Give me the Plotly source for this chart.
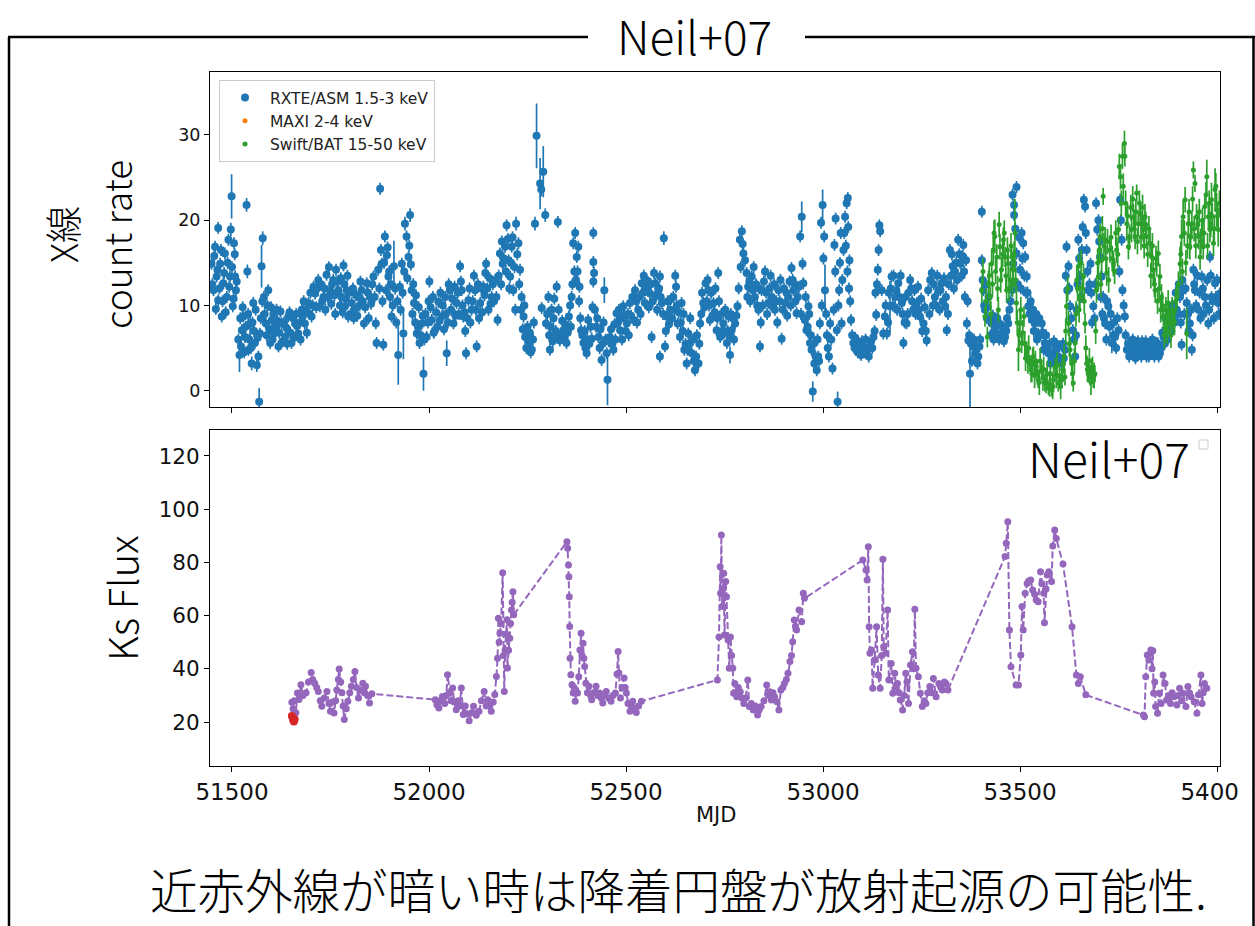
import plotly.graph_objects as go

# ---------------- data ----------------
# RXTE/ASM, points with individually read error bars
asm_mjd = [
    51448, 51453, 51457, 51461, 51465, 51465, 51470, 51474, 51478, 51482,
    51487, 51491, 51495, 51497, 51499, 51502, 51505, 51508, 51510, 51519,
    51525, 51529, 51533, 51537, 51539, 51542, 51546, 51550, 51554, 51558,
    51563, 51569, 51571, 51575, 51578, 51581, 51586, 51592, 51597, 51601,
    51607, 51613, 51618, 51626, 51635, 51643, 51651, 51660, 51668, 51677,
    51685, 51694, 51702, 51711, 51719, 51723, 51732, 51740, 51749, 51757,
    51764, 51770, 51778, 51783, 51787, 51791, 51795, 51804, 51812, 51821,
    51829, 51835, 51842, 51850, 51859, 51865, 51867, 51871, 51876, 51880,
    51884, 51888, 51893, 51897, 51901, 51905, 51911, 51922, 51926, 51931,
    51935, 51939, 51943, 51948, 51952, 51956, 51962, 51969, 51976, 51982,
    51986, 51994, 52001, 52007, 52015, 52024, 52032, 52041, 52045, 52053,
    52062, 52070, 52079, 52083, 52087, 52094, 52100, 52108, 52117, 52121,
    52130, 52138, 52145, 52151, 52159, 52168, 52174, 52180, 52187, 52193,
    52197, 52202, 52206, 52210, 52214, 52221, 52227, 52231, 52235, 52240,
    52244, 52252, 52261, 52269, 52273, 52282, 52285, 52286, 52290, 52295,
    52297, 52303, 52307, 52311, 52320, 52324, 52327, 52332, 52341, 52349,
    52355, 52362, 52366, 52371, 52375, 52377, 52379, 52382, 52386, 52392,
    52400, 52404, 52413, 52417, 52417, 52417, 52421, 52430, 52438, 52445,
    52451, 52453, 52459, 52468, 52476, 52485, 52493, 52502, 52510, 52519,
    52523, 52531, 52540, 52548, 52552, 52561, 52565, 52574, 52582, 52586,
    52586, 52591, 52596, 52599, 52603, 52612, 52620, 52627, 52631, 52637,
    52641, 52648, 52654, 52658, 52667, 52675, 52684, 52688, 52696, 52702,
    52709, 52713, 52722, 52730, 52734, 52739, 52747, 52756, 52760, 52764,
    52768, 52777, 52783, 52789, 52794, 52798, 52802, 52806, 52810, 52819,
    52827, 52836, 52840, 52844, 52853, 52861, 52870, 52878, 52887, 52895,
    52904, 52912, 52920, 52925, 52933, 52939, 52942, 52946, 52948, 52950,
    52954, 52958, 52963, 52967, 52971, 52974, 52978, 52984, 52988, 52992,
    52995, 52999, 53003, 53005, 53012, 53018, 53024, 53029, 53032, 53035,
    53037, 53041, 53045, 53047, 53052, 53056, 53060, 53063, 53064, 53067,
    53071, 53077, 53085, 53094, 53102, 53111, 53119, 53128, 53135, 53139,
    53141, 53143, 53145, 53149, 53153, 53157, 53162, 53170, 53174, 53183,
    53191, 53200, 53204, 53212, 53221, 53229, 53238, 53246, 53255, 53263,
    53267, 53276, 53284, 53293, 53301, 53310, 53314, 53322, 53329, 53335,
    53343, 53349, 53356, 53360, 53363, 53365, 53369, 53373, 53380, 53386,
    53392, 53397, 53403, 53403, 53407, 53411, 53420, 53428, 53436, 53445,
    53453, 53462, 53470, 53479, 53481, 53483, 53485, 53485, 53491, 53491,
    53500, 53504, 53508, 53513, 53517, 53521, 53530, 53538, 53546, 53555,
    53563, 53572, 53580, 53589, 53597, 53606, 53614, 53618, 53620, 53623,
    53627, 53634, 53640, 53644, 53648, 53652, 53659, 53662, 53665, 53669,
    53673, 53679, 53686, 53693, 53696, 53699, 53703, 53707, 53711, 53716,
    53724, 53733, 53741, 53750, 53754, 53758, 53760, 53766, 53771, 53779,
    53788, 53796, 53805, 53813, 53821, 53830, 53838, 53847, 53855, 53864,
    53872, 53881, 53889, 53898, 53906, 53910, 53914, 53923, 53931, 53936,
    53940, 53944, 53953, 53961, 53969, 53978, 53982, 53986, 53995, 54003,
    54007,
]
asm_rate = [
    14.9, 11.8, 16.9, 13.4, 19.1, 10.6, 14.9, 8.7, 12.6, 16.1,
    11.0, 17.7, 13.4, 18.9, 22.8, 9.9, 17.3, 13.4, 11.8, 4.2,
    7.1, 8.7, 6.3, 21.8, 14.0, 4.8, 7.9, 3.2, 10.3, 5.6,
    3.0, -1.3, 6.7, 14.6, 17.9, 11.0, 7.9, 11.8, 5.6, 8.3,
    6.7, 9.5, 5.2, 7.9, 6.3, 8.7, 5.6, 7.9, 6.7, 9.5,
    7.9, 10.3, 8.7, 11.4, 13.0, 9.9, 11.0, 13.6, 11.8, 13.0,
    14.2, 11.8, 11.0, 14.7, 9.9, 11.8, 8.7, 10.3, 9.5, 11.0,
    11.8, 7.9, 12.6, 11.0, 13.4, 7.9, 5.6, 14.2, 23.7, 14.9,
    5.4, 18.1, 15.9, 13.4, 11.0, 8.7, 14.6, 4.2, 12.2, 14.9,
    6.7, 19.6, 18.1, 15.7, 20.6, 11.8, 10.3, 6.7, 5.6, 7.9,
    2.0, 6.3, 12.8, 8.3, 7.1, 10.4, 8.7, 11.0, 4.4, 11.8,
    7.9, 10.3, 14.6, 11.8, 8.7, 4.4, 10.6, 9.5, 11.8, 5.2,
    10.3, 12.2, 14.9, 9.5, 11.0, 13.0, 8.3, 16.1, 14.9, 16.9,
    19.4, 15.3, 13.4, 16.9, 11.8, 19.6, 17.3, 14.2, 11.0, 8.7,
    6.3, 5.6, 4.8, 19.6, 29.9, 24.3, 23.6, 9.7, 25.7, 20.6,
    7.9, 11.0, 4.8, 9.5, 6.3, 12.2, 19.8, 5.9, 7.1, 5.6,
    8.7, 11.0, 17.3, 18.5, 15.7, 14.0, 16.9, 12.2, 7.1, 5.6,
    4.4, 8.3, 6.1, 18.5, 15.1, 12.8, 9.5, 6.3, 3.6, 11.8,
    4.4, 1.3, 6.3, 4.8, 9.1, 7.1, 9.9, 7.9, 10.3, 8.3,
    11.8, 9.5, 12.6, 10.3, 13.0, 11.4, 6.3, 12.6, 11.8, 13.4,
    4.0, 10.3, 17.9, 5.2, 8.7, 9.5, 11.0, 12.2, 7.9, 6.3,
    10.3, 4.8, 3.2, 6.7, 4.4, 2.4, 3.2, 7.9, 10.3, 12.6,
    11.8, 8.3, 10.3, 7.1, 13.8, 6.3, 7.9, 5.6, 8.7, 4.2,
    7.1, 7.9, 9.9, 17.7, 18.7, 16.1, 15.3, 13.8, 12.2, 13.4,
    11.0, 9.5, 5.2, 11.8, 14.0, 10.3, 11.0, 9.5, 11.8, 6.1,
    10.3, 11.0, 14.4, 11.8, 9.1, 12.2, 18.1, 20.4, 14.9, 12.6,
    8.3, 7.1, 9.9, 5.6, 4.8, -0.1, 3.2, 2.4, 4.0, 7.9,
    19.7, 21.8, 18.1, 11.8, 5.0, 7.9, 2.6, 17.1, 20.2, 7.1,
    -1.3, 11.8, 18.5, 7.9, 16.5, 20.4, 22.0, 22.6, 19.2, 15.3,
    8.3, 5.6, 4.8, 4.4, 5.2, 4.6, 5.2, 6.3, 8.9, 14.2,
    16.5, 19.4, 18.7, 11.8, 6.7, 8.7, 6.7, 9.9, 13.4, 11.0,
    12.6, 10.3, 5.6, 7.9, 13.0, 9.5, 10.3, 8.7, 7.9, 5.9,
    11.8, 13.8, 11.0, 11.8, 12.6, 9.9, 7.1, 16.5, 14.6, 14.0,
    17.7, 14.9, 17.1, 11.0, 15.3, 7.9, 5.9, 2.0, 5.2, 4.4,
    3.2, 5.2, 21.0, 15.3, 11.8, 9.5, 11.0, 7.9, 7.1, 7.9,
    6.7, 6.3, 7.9, 11.8, 23.0, 14.9, 21.8, 20.6, 23.9, 16.1,
    14.2, 18.5, 17.3, 15.7, 13.4, 9.9, 8.3, 7.9, 6.7, 7.9,
    5.6, 4.4, 3.6, 4.8, 4.0, 3.2, 4.8, 16.9, 11.8, 14.6,
    9.9, 7.1, 4.0, 9.5, 17.7, 13.4, 19.2, 22.4, 21.6, 16.5,
    11.8, 14.9, 9.9, 22.0, 18.9, 20.0, 15.7, 13.4, 11.0, 7.9,
    9.9, 5.6, 6.3, 7.1, 22.4, 17.7, 11.8, 8.7, 4.8, 5.6,
    4.4, 5.6, 4.4, 5.2, 4.0, 5.6, 4.8, 5.6, 4.4, 6.3,
    7.1, 7.9, 8.3, 9.5, 11.0, 5.4, 11.8, 10.3, 7.9, 4.8,
    14.2, 11.8, 9.5, 13.4, 11.0, 7.9, 15.7, 11.0, 12.6, 10.3,
    11.4,
]
asm_err = [
    0.7, 0.7, 0.7, 0.7, 0.7, 0.7, 0.7, 0.7, 0.7, 0.7,
    0.7, 0.7, 0.7, 0.8, 2.6, 0.7, 0.7, 0.7, 0.7, 2.0,
    0.7, 0.7, 0.7, 0.8, 0.8, 0.7, 1.5, 0.8, 0.7, 0.7,
    0.8, 1.6, 0.7, 2.5, 0.8, 0.7, 0.7, 0.7, 0.7, 0.7,
    0.7, 0.7, 0.7, 0.7, 0.7, 0.7, 0.7, 0.7, 0.7, 0.7,
    0.7, 0.7, 0.7, 0.7, 0.7, 0.7, 0.7, 0.7, 0.7, 0.7,
    0.7, 0.7, 0.7, 0.7, 0.7, 0.7, 0.7, 0.7, 0.7, 0.7,
    0.7, 0.7, 0.7, 0.7, 0.7, 0.7, 0.7, 0.7, 0.7, 0.7,
    0.7, 0.7, 0.7, 0.7, 0.7, 0.7, 3.0, 3.5, 0.7, 0.7,
    3.0, 0.8, 0.7, 0.7, 0.8, 0.7, 0.7, 0.7, 0.7, 0.7,
    2.0, 0.7, 0.7, 0.7, 0.7, 0.7, 0.7, 0.7, 1.5, 0.7,
    0.7, 0.7, 0.7, 0.7, 0.7, 0.7, 0.7, 0.7, 0.7, 0.7,
    0.7, 0.7, 0.7, 0.7, 0.7, 0.7, 0.7, 0.7, 0.7, 0.7,
    0.7, 0.7, 0.7, 0.7, 0.7, 0.8, 0.7, 0.7, 0.7, 0.7,
    0.7, 0.7, 0.7, 0.8, 3.8, 3.0, 0.8, 0.7, 3.0, 0.8,
    0.7, 0.7, 0.7, 0.7, 0.7, 0.7, 0.7, 0.7, 0.7, 0.7,
    0.7, 0.7, 0.7, 0.7, 0.7, 0.7, 0.7, 0.7, 0.7, 0.7,
    0.7, 0.7, 0.7, 0.7, 0.7, 0.7, 0.7, 0.7, 0.7, 1.5,
    0.7, 3.0, 0.7, 0.7, 0.7, 0.7, 0.7, 0.7, 0.7, 0.7,
    0.7, 0.7, 0.7, 0.7, 0.7, 0.7, 0.7, 0.7, 0.7, 0.7,
    0.7, 0.7, 0.8, 0.7, 0.7, 0.7, 0.7, 0.7, 0.7, 0.7,
    0.7, 0.7, 0.7, 0.7, 0.7, 0.7, 0.7, 0.7, 0.7, 0.7,
    0.7, 0.7, 0.7, 0.7, 0.7, 0.7, 0.7, 0.7, 0.7, 1.0,
    0.7, 0.7, 0.7, 0.7, 0.7, 0.7, 0.7, 0.7, 0.7, 0.7,
    0.7, 0.7, 0.7, 0.7, 0.7, 0.7, 0.7, 0.7, 0.7, 0.7,
    0.7, 0.7, 0.7, 0.7, 0.7, 0.7, 0.7, 1.8, 0.7, 0.7,
    0.7, 0.7, 0.7, 0.7, 0.7, 1.2, 0.7, 0.7, 0.7, 0.7,
    0.7, 1.8, 0.7, 3.0, 1.0, 0.7, 0.7, 0.7, 0.7, 0.7,
    1.2, 0.7, 0.7, 0.7, 0.7, 0.7, 0.7, 0.7, 0.7, 0.7,
    0.7, 0.7, 0.7, 0.7, 0.7, 0.7, 0.7, 0.7, 0.7, 0.7,
    0.7, 0.7, 0.7, 0.7, 0.7, 0.7, 0.7, 3.0, 0.7, 0.7,
    0.7, 0.7, 0.7, 0.7, 0.7, 0.7, 0.7, 0.7, 0.7, 0.7,
    0.7, 0.7, 0.7, 0.7, 0.7, 0.7, 0.7, 0.7, 0.7, 0.7,
    0.7, 0.7, 0.7, 0.7, 0.7, 0.7, 0.7, 4.0, 0.7, 0.7,
    0.7, 0.7, 0.7, 0.7, 0.7, 0.7, 0.7, 0.7, 0.7, 0.7,
    0.7, 0.7, 0.7, 0.7, 0.7, 0.7, 0.7, 0.7, 0.7, 0.7,
    0.7, 0.7, 0.7, 0.7, 0.7, 0.7, 0.7, 0.7, 0.7, 0.7,
    0.7, 0.7, 0.7, 0.7, 0.7, 0.7, 0.7, 0.7, 0.7, 0.7,
    0.7, 0.7, 0.7, 0.7, 0.7, 0.7, 0.7, 0.7, 0.7, 0.7,
    0.7, 0.7, 0.7, 0.7, 0.7, 0.7, 0.7, 0.7, 0.7, 0.7,
    0.7, 1.2, 0.7, 0.7, 0.7, 0.7, 0.7, 0.7, 0.7, 0.7,
    0.7, 0.7, 0.7, 0.7, 0.7, 0.7, 0.7, 0.7, 0.7, 0.7,
    0.7, 0.7, 0.7, 0.7, 0.7, 0.7, 0.7, 0.7, 0.7, 0.7,
    0.7, 0.7, 0.7, 0.7, 0.7, 0.7, 0.7, 0.7, 0.7, 0.7,
    0.7,
]

# RXTE/ASM, the dense band of ordinary points (typical error ~0.7)
asm_dense_mjd = [
    51450, 51455, 51459, 51463, 51468, 51472, 51476, 51480, 51484, 51489, 51493, 51500, 51504, 51507, 51512,
    51516, 51521, 51523, 51527, 51531, 51535, 51541, 51544, 51548, 51552, 51556, 51560, 51565, 51567, 51573,
    51577, 51583, 51588, 51590, 51595, 51599,
    51603, 51605, 51610, 51615, 51620, 51623, 51629, 51632, 51638, 51640, 51646, 51648, 51655, 51657, 51663,
    51665, 51672, 51674, 51680, 51682, 51688, 51690, 51697, 51699, 51705, 51707, 51714, 51716,
    51726, 51729, 51735, 51737, 51743, 51746, 51752, 51754, 51760, 51762, 51767, 51774, 51776, 51781, 51785,
    51789, 51793, 51798, 51801, 51807, 51809, 51815, 51818, 51824, 51826, 51832, 51838, 51845, 51847, 51853,
    51856, 51862,
    51874, 51878, 51882, 51886, 51891, 51895, 51899, 51903, 51908, 51914, 51917, 51920, 51928, 51933, 51937,
    51945, 51950, 51954, 51958, 51960, 51965, 51967, 51972, 51974, 51979, 51984, 51988, 51991,
    51997, 51999, 52004, 52010, 52012, 52018, 52021, 52027, 52029, 52035, 52038, 52043, 52048, 52050, 52056,
    52059, 52065, 52067, 52073, 52076, 52081, 52085, 52090, 52092, 52097, 52103, 52105, 52111, 52114, 52119,
    52124, 52127,
    52133, 52135, 52141, 52143, 52148, 52154, 52156, 52162, 52165, 52171, 52177, 52183, 52185, 52190, 52195,
    52200, 52204, 52208, 52212, 52217, 52219, 52224, 52229, 52233, 52238, 52242, 52247, 52250, 52256, 52258,
    52264, 52266,
    52300, 52305, 52309, 52314, 52316, 52318, 52322, 52329, 52335, 52338, 52344, 52346, 52352, 52358, 52360,
    52364, 52369, 52373, 52381, 52384, 52389, 52395, 52397, 52402, 52407, 52410, 52415, 52419, 52424, 52427,
    52433, 52435, 52441, 52443, 52448, 52456, 52462, 52465, 52471, 52473, 52479, 52482, 52488, 52490, 52496,
    52499, 52505, 52507, 52513, 52516,
    52526, 52528, 52534, 52537, 52543, 52545, 52550, 52555, 52558, 52563, 52568, 52571, 52577, 52579, 52584,
    52588, 52594, 52601, 52606, 52609, 52615, 52617, 52623, 52625, 52629, 52634, 52639, 52644, 52646, 52651,
    52656, 52661, 52663, 52670, 52672, 52678, 52680, 52686, 52691, 52693, 52699,
    52705, 52707, 52711, 52716, 52719, 52725, 52727, 52732, 52736, 52742, 52744, 52750, 52752, 52758, 52762,
    52766, 52771, 52774, 52780, 52786, 52791, 52796,
    52808, 52813, 52815, 52822, 52824, 52830, 52833, 52838, 52842, 52847, 52850, 52856, 52858, 52864, 52867,
    52873, 52876, 52881, 52884, 52890, 52892, 52898, 52901, 52907, 52909, 52915, 52918, 52923, 52928, 52930,
    52936, 52944,
    52956, 52961, 52965, 52969, 52976, 52981, 52986, 52990, 52997, 53001, 53008, 53010, 53015, 53021, 53027,
    53031, 53039, 53043, 53049, 53054, 53058, 53062, 53066, 53069, 53074, 53080, 53082, 53088, 53091, 53097,
    53099, 53105, 53108, 53114, 53116, 53122, 53125, 53131, 53133, 53137,
    53159, 53165, 53167, 53172, 53177, 53179, 53186, 53188, 53194, 53197, 53202, 53207, 53209, 53215, 53217,
    53224, 53226, 53232, 53235, 53241, 53243, 53249, 53252, 53258, 53261, 53270, 53272, 53279, 53281, 53287,
    53290, 53296, 53298, 53304, 53307, 53312, 53317, 53319, 53325, 53327, 53332, 53338, 53340, 53346, 53352,
    53354, 53358, 53367, 53371, 53376, 53378, 53383, 53389, 53394, 53399,
    53405, 53409, 53413, 53416, 53418, 53423, 53425, 53431, 53433, 53439, 53442, 53447, 53450, 53456, 53459,
    53465, 53467, 53473, 53476, 53488, 53494, 53497, 53502, 53506, 53511, 53515, 53519, 53524, 53527, 53533,
    53535, 53541, 53543, 53549, 53552, 53558, 53560,
    53566, 53569, 53575, 53577, 53583, 53586, 53592, 53594, 53600, 53603, 53609, 53611, 53616, 53625, 53630,
    53637, 53642, 53646, 53650, 53655, 53657, 53667, 53671, 53676, 53681, 53683, 53689, 53691, 53701, 53705,
    53709, 53713, 53719, 53721, 53727, 53730, 53736, 53738, 53744, 53747, 53752, 53756, 53763, 53768,
    53774, 53777, 53783, 53786, 53791, 53793, 53799, 53802, 53808, 53810, 53816, 53819, 53825, 53827, 53833,
    53836, 53841, 53844, 53850, 53852, 53858, 53861, 53867, 53869, 53875, 53878, 53884, 53886, 53892, 53895,
    53901, 53903, 53908, 53912, 53917, 53920, 53926, 53928, 53934, 53938, 53942, 53947, 53950, 53956, 53958,
    53964, 53966, 53972, 53975, 53980, 53984, 53989, 53992, 53997, 54000, 54005,
]
asm_dense_rate = [
    12.5, 15.8, 9.6, 14.2, 12.0, 16.5, 10.5, 13.8, 9.2, 15.0, 12.2, 14.5, 10.8, 16.0, 12.8,
    6.0, 8.5, 5.2, 9.8, 4.5, 7.5, 9.0, 6.0, 5.0, 8.0, 7.0, 9.5, 6.2, 4.0, 8.5,
    10.5, 9.0, 6.5, 10.0, 7.2, 9.8,
    6.0, 9.0, 7.5, 8.2, 6.8, 9.3, 5.8, 8.0, 7.4, 5.5, 9.2, 6.8, 8.5, 6.2, 9.0,
    7.6, 8.0, 6.0, 8.8, 10.5, 9.5, 6.8, 9.0, 11.5, 10.0, 12.2, 9.8, 12.0,
    12.5, 10.5, 12.0, 9.5, 11.0, 14.5, 10.2, 12.5, 11.2, 9.0, 12.8, 10.0, 13.2, 9.2, 12.5,
    10.8, 13.5, 11.5, 9.0, 12.0, 8.5, 11.2, 8.8, 10.0, 12.8, 10.5, 9.8, 11.5, 8.5, 10.2,
    12.5, 11.0,
    12.0, 16.5, 10.5, 15.0, 11.8, 16.8, 14.0, 12.5, 10.0, 12.0, 8.0, 10.5, 9.5, 11.5, 14.0,
    13.2, 17.0, 14.8, 9.0, 12.5, 8.0, 11.2, 7.5, 9.8, 6.5, 8.8, 6.0, 9.0,
    8.0, 10.5, 9.8, 11.0, 6.8, 9.2, 7.5, 8.2, 11.5, 10.0, 7.2, 9.0, 8.0, 12.5, 9.5,
    10.8, 12.2, 8.8, 11.5, 9.0, 12.8, 10.0, 9.2, 7.0, 8.5, 12.0, 8.0, 10.5, 13.5, 9.5,
    12.5, 8.5,
    12.0, 9.2, 11.2, 13.8, 12.0, 13.2, 10.2, 12.5, 10.5, 11.0, 13.5, 12.5, 17.5, 15.5, 14.0,
    17.8, 12.0, 15.0, 18.0, 14.5, 9.5, 16.0, 12.5, 9.5, 7.2, 10.0, 5.0, 7.5, 6.8, 4.5,
    6.0, 8.0,
    9.0, 6.5, 7.5, 5.8, 8.5, 10.8, 7.0, 9.5, 6.5, 8.2, 6.0, 7.8, 6.8, 10.0, 7.5,
    12.5, 14.0, 13.0, 10.5, 8.5, 6.5, 7.0, 5.0, 6.0, 5.5, 7.5, 9.8, 13.8, 7.5, 8.5,
    5.0, 7.2, 5.5, 8.0, 6.0, 5.8, 7.2, 5.5, 7.8, 6.0, 8.0, 9.5, 8.5, 6.0, 8.8,
    7.0, 9.0, 6.5, 8.8, 11.0,
    10.5, 8.0, 11.0, 9.0, 11.5, 13.5, 11.8, 12.2, 9.8, 12.5, 10.5, 13.8, 11.2, 9.5, 12.0,
    11.0, 9.0, 7.0, 10.5, 7.8, 10.8, 8.5, 9.5, 13.5, 10.0, 9.2, 8.0, 7.0, 9.0, 5.5,
    4.8, 5.5, 8.5, 6.0, 3.5, 4.0, 6.5, 5.5, 9.0, 11.5, 9.8,
    10.5, 13.0, 10.0, 11.5, 8.8, 9.2, 12.0, 8.5, 10.5, 9.0, 7.0, 6.8, 9.5, 7.0, 6.5,
    9.0, 8.5, 6.0, 8.8, 12.0, 14.5, 17.2,
    11.0, 12.8, 10.5, 11.8, 14.5, 12.5, 10.0, 12.0, 8.0, 10.0, 12.8, 11.5, 9.0, 12.0, 13.5,
    9.8, 12.5, 10.5, 8.0, 10.5, 13.0, 9.5, 12.0, 11.5, 8.8, 12.8, 10.0, 13.0, 12.5, 10.5,
    11.0, 9.0,
    11.0, 7.5, 9.0, 6.5, 5.5, 4.0, 6.0, 3.5, 10.0, 15.5, 9.0, 6.5, 4.0, 6.0, 9.5,
    14.0, 10.0, 15.0, 13.0, 18.5, 17.0, 14.0, 12.0, 10.5, 6.5, 5.0, 6.2, 4.5, 5.5, 4.2,
    5.8, 4.5, 6.0, 5.0, 4.0, 5.8, 5.0, 7.0, 11.5, 12.5,
    10.0, 8.0, 11.5, 12.0, 10.0, 13.5, 11.8, 9.5, 11.0, 13.5, 9.0, 8.0, 11.0, 9.0, 11.5,
    12.0, 10.5, 11.8, 9.0, 12.2, 9.5, 10.8, 7.0, 9.8, 7.0, 9.0, 13.0, 10.0, 12.5, 10.0,
    13.5, 9.5, 11.8, 10.5, 13.2, 11.0, 9.0, 12.5, 13.5, 16.0, 12.0, 15.0, 13.0, 16.0, 13.5,
    15.8, 14.0, 10.5, 6.5, 5.5, 3.5, 6.0, 5.0, 4.0, 6.0,
    13.0, 10.0, 12.5, 8.5, 9.8, 8.5, 6.5, 8.8, 6.0, 6.5, 8.5, 6.0, 7.8, 7.5, 5.8,
    7.0, 8.5, 9.5, 10.5, 19.0, 12.5, 18.0, 12.0, 15.5, 13.5, 11.5, 11.5, 9.0, 10.5, 9.5,
    7.0, 9.0, 6.0, 8.5, 6.5, 6.8, 4.8,
    6.5, 5.0, 5.5, 3.2, 4.0, 5.8, 5.5, 3.5, 5.2, 3.5, 5.5, 3.8, 13.5, 12.0, 8.5,
    6.0, 6.5, 12.5, 15.5, 11.0, 16.5, 18.5, 14.0, 12.5, 11.5, 8.0, 8.5, 12.5, 17.5, 11.0,
    9.0, 8.5, 6.0, 10.5, 7.5, 9.0, 6.5, 8.0, 5.0, 8.5, 14.0, 20.0, 10.0, 6.5,
    5.5, 4.0, 4.8, 6.0, 5.0, 3.8, 5.8, 5.0, 4.0, 5.8, 4.5, 5.8, 5.0, 4.0, 4.5,
    6.0, 4.0, 5.0, 5.5, 4.0, 5.0, 6.8, 5.5, 8.5, 6.0, 9.0, 7.0, 10.0, 8.0, 11.5,
    9.0, 12.5, 8.0, 13.0, 9.0, 12.0, 9.0, 7.0, 9.5, 6.5, 12.5, 10.0, 13.5, 11.5, 8.5,
    12.0, 9.0, 10.0, 13.0, 9.5, 13.5, 10.5, 8.5, 11.0, 13.0, 9.0,
]
asm_dense_err = 0.7

# Swift/BAT, points with individually read error bars
bat_mjd = [
    53403, 53411, 53417, 53420, 53424, 53428, 53432, 53436, 53441, 53445,
    53449, 53453, 53458, 53462, 53466, 53470, 53475, 53479, 53483, 53487,
    53491, 53496, 53500, 53504, 53510, 53517, 53525, 53530, 53534, 53541,
    53546, 53555, 53563, 53572, 53580, 53585, 53589, 53597, 53606, 53610,
    53614, 53618, 53623, 53627, 53631, 53635, 53640, 53644, 53648, 53652,
    53661, 53665, 53669, 53673, 53678, 53682, 53686, 53690, 53694, 53699,
    53703, 53707, 53711, 53716, 53720, 53728, 53737, 53745, 53750, 53752,
    53755, 53760, 53765, 53766, 53771, 53775, 53783, 53788, 53792, 53796,
    53800, 53805, 53809, 53813, 53817, 53821, 53830, 53834, 53838, 53843,
    53847, 53851, 53855, 53859, 53864, 53868, 53872, 53876, 53881, 53889,
    53898, 53906, 53910, 53914, 53919, 53923, 53927, 53931, 53936, 53940,
    53944, 53948, 53953, 53957, 53961, 53965, 53969, 53974, 53978, 53982,
    53986, 53991, 53995, 53999, 54003,
]
bat_rate = [
    11.8, 8.7, 6.3, 12.6, 11.0, 14.9, 16.5, 18.1, 15.7, 9.5,
    16.9, 14.2, 17.7, 15.7, 11.8, 14.9, 13.0, 15.7, 14.2, 18.5,
    10.3, 4.8, 7.9, 5.6, 8.7, 4.8, 3.2, 2.0, 4.0, 2.8,
    1.3, 2.4, 0.9, 0.3, 0.1, 1.3, 2.8, 0.9, 1.3, 3.2,
    1.6, 9.9, 7.9, 4.8, 3.2, 0.9, 5.6, 13.0, 14.6, 11.0,
    13.4, 7.9, 3.2, 2.0, 1.6, 2.8, 1.3, 2.0, 11.8, 13.4,
    18.1, 15.3, 22.8, 17.7, 13.8, 16.5, 14.9, 16.5, 18.9, 26.3,
    25.1, 27.5, 29.0, 27.5, 19.6, 16.9, 18.9, 20.4, 18.1, 23.2,
    19.6, 20.8, 19.6, 18.9, 20.4, 18.1, 17.3, 15.7, 14.2, 11.8,
    14.9, 16.1, 13.4, 11.0, 8.7, 7.1, 8.7, 10.3, 7.9, 8.3,
    11.0, 14.9, 18.1, 20.4, 22.4, 6.7, 19.6, 16.9, 19.6, 25.9,
    24.3, 20.4, 18.1, 15.7, 18.5, 16.9, 21.6, 25.1, 20.4, 18.9,
    22.4, 17.3, 23.6, 21.2, 18.9,
]
bat_err = [
    1.5, 1.2, 1.2, 1.5, 1.2, 1.5, 1.5, 2.0, 1.5, 1.5,
    1.5, 1.5, 1.5, 1.2, 1.5, 1.5, 1.5, 1.5, 1.5, 4.0,
    2.0, 2.5, 1.5, 1.2, 1.2, 1.0, 1.0, 1.0, 1.2, 1.0,
    1.0, 1.0, 1.0, 0.8, 0.8, 1.5, 1.0, 1.0, 1.0, 1.2,
    1.0, 2.0, 1.5, 1.5, 1.0, 1.0, 1.5, 1.5, 1.5, 1.5,
    1.5, 1.2, 1.0, 1.0, 1.0, 1.0, 1.0, 1.0, 1.5, 1.5,
    1.5, 1.5, 1.0, 1.5, 1.5, 1.5, 1.5, 1.5, 1.5, 1.5,
    1.5, 1.5, 1.5, 1.2, 2.0, 1.5, 1.5, 1.5, 1.5, 1.0,
    1.5, 1.5, 1.5, 1.5, 1.5, 1.5, 1.5, 1.5, 1.5, 1.5,
    1.5, 1.5, 1.5, 1.5, 1.5, 1.5, 1.5, 1.5, 1.5, 1.5,
    1.5, 2.0, 2.0, 2.0, 1.5, 3.0, 1.5, 1.5, 1.5, 1.0,
    1.0, 1.5, 1.5, 1.5, 1.5, 1.5, 1.5, 2.0, 1.5, 1.5,
    2.0, 1.5, 2.5, 2.0, 2.0,
]
# Swift/BAT, the remaining dense points (typical error ~1.5)
bat_dense_mjd = [
    53406, 53414, 53422, 53426, 53430, 53434, 53438, 53443, 53447, 53451, 53456, 53460, 53464, 53468, 53472,
    53477, 53481, 53485, 53489, 53493, 53498, 53502, 53507, 53512, 53514, 53520, 53522, 53528, 53532, 53537,
    53539, 53544, 53549, 53551, 53558, 53560, 53566, 53569, 53575, 53577, 53583, 53592, 53594, 53600, 53603,
    53608, 53612, 53616, 53621, 53625, 53633, 53638, 53642, 53646, 53650, 53655, 53658, 53663, 53667, 53671,
    53676, 53680, 53684, 53688, 53692, 53697, 53701, 53705, 53709, 53713, 53718, 53722, 53725, 53731, 53734,
    53740, 53743, 53748, 53757, 53762, 53768, 53773, 53778, 53781, 53786, 53790, 53794, 53798, 53803, 53807,
    53811, 53815, 53819, 53824, 53827, 53832, 53836, 53841, 53845, 53849, 53853, 53857, 53862, 53866, 53870,
    53874, 53878, 53883, 53886, 53892, 53895, 53902, 53908, 53912, 53917, 53921, 53925, 53929, 53933, 53938,
    53942, 53946, 53951, 53955, 53959, 53963, 53967, 53972, 53976, 53980, 53984, 53988, 53993, 53997, 54001,
    54006,
]
bat_dense_rate = [
    14.0, 10.5, 13.5, 9.0, 12.5, 18.5, 14.0, 12.0, 19.5, 13.0, 16.0, 18.5, 13.5, 16.5, 12.0,
    17.0, 12.5, 16.0, 13.0, 8.0, 6.5, 9.5, 6.8, 5.5, 3.8, 3.5, 5.0, 2.5, 3.5, 1.8,
    3.2, 2.2, 1.0, 3.5, 1.5, 2.5, 1.2, 2.0, 0.8, 2.0, 0.5, 1.8, 3.0, 1.8, 0.5,
    2.5, 4.0, 7.0, 12.0, 5.5, 2.0, 3.5, 9.0, 12.0, 9.5, 15.0, 12.0, 10.5, 5.0, 2.5,
    3.5, 1.0, 2.5, 1.8, 7.0, 15.0, 16.5, 12.5, 19.0, 17.0, 15.5, 17.5, 13.0, 18.0, 15.5,
    14.0, 18.5, 16.0, 22.0, 24.0, 22.0, 20.5, 18.0, 21.5, 22.5, 19.0, 21.0, 17.5, 22.0, 18.0,
    21.5, 17.0, 19.5, 16.0, 19.0, 13.5, 17.0, 12.5, 15.5, 10.5, 12.0, 9.5, 10.0, 6.5, 9.5,
    7.0, 9.0, 6.5, 9.5, 8.0, 10.5, 12.5, 16.0, 14.0, 18.5, 15.0, 17.0, 21.0, 18.0, 22.5,
    19.0, 17.0, 19.5, 21.0, 17.5, 20.0, 18.5, 23.0, 17.0, 22.0, 19.5, 20.5, 19.0, 24.0, 20.5,
    22.0,
]
bat_dense_err = 1.5

# MAXI: no data in this window (legend entry only)
maxi_mjd = [None]
maxi_rate = [None]

# Ks-band flux (Neil+07)
ks_mjd = [
    51652, 51655, 51658, 51662, 51666, 51670, 51675, 51680, 51688, 51694,
    51701, 51705, 51710, 51715, 51719, 51724, 51728, 51734, 51741, 51746,
    51750, 51755, 51759, 51763, 51766, 51770, 51772, 51776, 51779, 51782,
    51785, 51790, 51794, 51799, 51803, 51808, 51812, 51816, 51821, 51826,
    51832, 51836, 51839, 51844, 51849, 51855,
    52016, 52020, 52025, 52030, 52034, 52040, 52044, 52047, 52052, 52056,
    52060, 52064, 52069, 52074, 52078, 52082, 52087, 52092, 52097, 52102,
    52108, 52113, 52120, 52127, 52133, 52140, 52145, 52149, 52154, 52158,
    52163, 52167, 52171, 52174, 52176, 52178, 52180, 52183, 52187, 52189,
    52191, 52193, 52196, 52198, 52199, 52202, 52205, 52207, 52209, 52211,
    52213, 52215,
    52350, 52352, 52354, 52355, 52356, 52357, 52358, 52360, 52363, 52366,
    52368, 52371, 52374, 52377, 52380, 52383, 52386, 52388, 52391, 52393,
    52395, 52398, 52402, 52406, 52410, 52413, 52418, 52424, 52428, 52433,
    52437, 52441, 52446, 52450, 52456, 52462, 52467, 52473, 52477, 52480,
    52482, 52486, 52490, 52495, 52498, 52501, 52505, 52510, 52514, 52517,
    52522, 52526, 52532, 52539,
    52732, 52736, 52739, 52740, 52742, 52744, 52746, 52748, 52750, 52753,
    52755, 52759, 52762, 52765, 52768, 52771, 52773, 52776, 52781, 52785,
    52790, 52794, 52799, 52804, 52809, 52813, 52818, 52823, 52828, 52834,
    52838, 52843, 52850, 52857, 52861, 52865, 52869, 52873, 52877, 52883,
    52888, 52893, 52898, 52902, 52907, 52911, 52916, 52920, 52923, 52927,
    52930, 52933, 52939, 52946, 52950, 52953,
    53101, 53109, 53112, 53115, 53117, 53119, 53123, 53126, 53131, 53136,
    53140, 53145, 53149, 53152, 53154, 53159, 53164, 53167, 53173, 53177,
    53182, 53186, 53189, 53193, 53196, 53202, 53206, 53210, 53213, 53217,
    53222, 53227, 53230, 53233, 53236, 53242, 53247, 53252, 53257, 53261,
    53266, 53271, 53276, 53280, 53287, 53294, 53299, 53303, 53308, 53312,
    53317,
    53462, 53465, 53469, 53473, 53477, 53490, 53496, 53502, 53505, 53508,
    53513, 53518, 53522, 53527, 53532, 53537, 53541, 53546, 53552, 53556,
    53560, 53562, 53566, 53569, 53573, 53580, 53583, 53588, 53592, 53609,
    53632, 53643, 53648, 53653, 53667,
    53813, 53816, 53819, 53823, 53827, 53832, 53835, 53837, 53839, 53842,
    53844, 53849, 53853, 53858, 53863, 53868, 53872, 53877, 53882, 53886,
    53891, 53898, 53902, 53905, 53910, 53914, 53921, 53926, 53930, 53934,
    53942, 53949, 53953, 53959, 53962, 53965, 53968, 53974,
]
ks_flux = [
    27.4, 25.0, 28.0, 23.5, 30.9, 28.5, 34.0, 30.0, 31.0, 35.0,
    38.6, 36.0, 34.6, 33.0, 31.5, 28.0, 25.9, 29.0, 31.5, 27.0,
    24.0, 27.5, 23.4, 28.0, 32.0, 36.0, 39.9, 35.0, 31.0, 26.0,
    20.9, 25.0, 27.8, 31.0, 33.4, 36.0, 39.0, 33.0, 29.0, 32.0,
    34.6, 31.0, 33.4, 30.0, 27.1, 30.6,
    28.4, 26.5, 25.3, 28.0, 29.6, 27.0, 30.0, 37.8, 30.9, 28.0,
    32.8, 27.5, 24.6, 28.0, 26.0, 32.8, 22.8, 26.0, 23.0, 20.5,
    23.5, 25.9, 22.5, 24.0, 28.0, 31.5, 26.0, 28.4, 26.0, 24.0,
    27.5, 30.3, 37.1, 44.0, 59.0, 50.0, 53.4, 57.0, 76.1, 45.0,
    31.5, 47.1, 53.0, 58.4, 40.3, 47.0, 51.5, 57.0, 62.1, 65.0,
    69.0, 60.3,
    87.8, 85.3, 79.0, 74.6, 67.1, 55.9, 44.0, 37.8, 34.0, 30.9,
    33.0, 27.8, 31.0, 30.9, 37.0, 47.1, 53.4, 45.0, 49.6, 44.0,
    40.9, 34.6, 31.0, 33.4, 30.0, 28.4, 31.0, 33.4, 30.0, 30.9,
    29.0, 27.1, 30.0, 31.5, 29.0, 27.8, 30.0, 30.9, 38.0, 46.5,
    38.4, 29.0, 33.0, 36.5, 33.0, 30.9, 27.0, 24.0, 26.0, 27.8,
    25.0, 23.6, 26.0, 27.8,
    35.8, 52.0, 78.4, 68.4, 90.3, 63.4, 70.0, 75.9, 52.7, 72.8,
    67.1, 50.8, 40.2, 52.0, 45.0, 40.2, 30.8, 34.5, 29.5, 33.0,
    31.4, 29.0, 27.0, 29.0, 35.8, 25.8, 27.0, 24.5, 26.0, 22.6,
    24.5, 25.8, 28.0, 33.9, 30.0, 31.4, 28.3, 31.0, 29.5, 27.6,
    24.5, 32.0, 33.0, 34.5, 36.0, 38.3, 42.7, 45.0, 50.2, 58.3,
    56.0, 54.6, 62.1, 57.7, 68.4, 66.5,
    80.9, 77.1, 73.4, 85.9, 55.8, 45.8, 47.1, 32.7, 43.3, 55.8,
    37.7, 32.7, 45.0, 81.2, 48.3, 45.8, 62.1, 35.8, 42.0, 30.8,
    38.3, 33.0, 34.5, 31.0, 28.3, 24.5, 30.0, 38.3, 35.0, 27.0,
    41.4, 46.4, 40.0, 62.4, 40.2, 37.0, 30.8, 25.8, 28.0, 27.0,
    31.0, 33.3, 31.0, 36.4, 29.5, 34.5, 33.0, 32.0, 35.0, 34.5,
    32.0,
    82.2, 87.2, 95.3, 54.6, 40.8, 33.9, 33.9, 45.2, 63.4, 54.6,
    68.4, 72.1, 73.0, 73.4, 69.6, 68.0, 65.9, 65.2, 76.5, 72.0,
    68.4, 57.3, 70.0, 75.3, 76.5, 72.8, 86.2, 92.2, 89.0, 79.4,
    55.8, 37.7, 34.5, 37.0, 30.2,
    22.6, 22.0, 37.0, 45.2, 43.3, 47.1, 40.0, 46.8, 30.8, 35.0,
    25.8, 23.3, 30.8, 27.0, 37.7, 34.5, 28.3, 30.0, 27.0, 31.0,
    29.5, 26.4, 30.0, 32.7, 28.0, 30.8, 25.8, 33.3, 31.0, 29.5,
    27.6, 23.3, 30.2, 37.7, 27.0, 31.0, 34.5, 32.7,
]
ks_red_mjd = [51652, 51655, 51657, 51659]
ks_red_flux = [22.3, 20.8, 20.2, 21.0]

x_ticks = [51500, 52000, 52500, 53000, 53500, 54000]
x_ticktext = ["51500", "52000", "52500", "53000", "53500", "54000"]
y1_ticks = [0, 10, 20, 30]
y2_ticks = [20, 40, 60, 80, 100, 120]

# ---------------- layout helpers (pixel -> paper) ----------------
W, H = 1255, 926


def px(x):
    return x / W


def py(y):
    return 1 - y / H


BLUE, ORANGE, GREEN = "#1f77b4", "#ff7f0e", "#2ca02c"
PURPLE, RED = "#9467bd", "#d62728"
JP = "Noto Sans CJK JP"
DV = "DejaVu Sans"

fig = go.Figure()
fig.add_trace(go.Scatter(
    x=asm_dense_mjd, y=asm_dense_rate, mode="markers", showlegend=False,
    legendgroup="asm", marker=dict(color=BLUE, size=8),
    error_y=dict(type="constant", value=asm_dense_err, color=BLUE, thickness=1.7, width=0),
    xaxis="x", yaxis="y"))
fig.add_trace(go.Scatter(
    x=asm_mjd, y=asm_rate, mode="markers", name="RXTE/ASM 1.5-3 keV",
    legendgroup="asm", marker=dict(color=BLUE, size=8),
    error_y=dict(type="data", array=asm_err, color=BLUE, thickness=1.7, width=0),
    xaxis="x", yaxis="y"))
fig.add_trace(go.Scatter(
    x=maxi_mjd, y=maxi_rate, mode="markers", name="MAXI 2-4 keV",
    marker=dict(color=ORANGE, size=5),
    xaxis="x", yaxis="y"))
fig.add_trace(go.Scatter(
    x=bat_dense_mjd, y=bat_dense_rate, mode="markers", showlegend=False,
    legendgroup="bat", marker=dict(color=GREEN, size=5),
    error_y=dict(type="constant", value=bat_dense_err, color=GREEN, thickness=1.7, width=0),
    xaxis="x", yaxis="y"))
fig.add_trace(go.Scatter(
    x=bat_mjd, y=bat_rate, mode="markers", name="Swift/BAT 15-50 keV",
    legendgroup="bat", marker=dict(color=GREEN, size=5),
    error_y=dict(type="data", array=bat_err, color=GREEN, thickness=1.7, width=0),
    xaxis="x", yaxis="y"))
fig.add_trace(go.Scatter(
    x=ks_mjd, y=ks_flux, mode="lines+markers", showlegend=False,
    line=dict(color=PURPLE, width=2, dash="7px,3px"),
    marker=dict(color=PURPLE, size=7),
    xaxis="x2", yaxis="y2"))
fig.add_trace(go.Scatter(
    x=ks_red_mjd, y=ks_red_flux, mode="markers", showlegend=False,
    marker=dict(color=RED, size=8),
    xaxis="x2", yaxis="y2"))

axis_common = dict(showline=True, linecolor="black", linewidth=1, mirror=True,
                   ticks="outside", ticklen=5, tickwidth=1, tickcolor="black",
                   showgrid=False, zeroline=False, automargin=False)
xr = [51444.2, 54007.5]
tick_color = "#111111"

fig.update_layout(
    width=W, height=H,
    margin=dict(l=0, r=0, t=0, b=0, pad=0, autoexpand=False),
    paper_bgcolor="white", plot_bgcolor="white",
    xaxis=dict(domain=[px(210), px(1220)], range=xr, anchor="y",
               tickvals=x_ticks, showticklabels=False, **axis_common),
    yaxis=dict(domain=[py(407), py(72)], range=[-1.91, 37.39], anchor="x",
               tickvals=y1_ticks, tickfont=dict(family=DV, size=17.5, color=tick_color),
               **axis_common),
    xaxis2=dict(domain=[px(210), px(1220)], range=xr, anchor="y2",
                tickvals=x_ticks, ticktext=x_ticktext,
                tickfont=dict(family=DV, size=23, color=tick_color), **axis_common),
    yaxis2=dict(domain=[py(766), py(430)], range=[3.46, 129.77], anchor="x2",
                tickvals=y2_ticks, tickfont=dict(family=DV, size=21.5, color=tick_color),
                **axis_common),
    showlegend=True,
    legend=dict(x=px(219), y=py(80), xanchor="left", yanchor="top",
                bgcolor="white", bordercolor="#cccccc", borderwidth=1,
                font=dict(family=DV, size=15.5, color="#222222"),
                itemwidth=40, tracegroupgap=0),
)

annotations = [
    dict(text="Neil+07", x=px(695), y=py(34.5), font=dict(family=JP, size=46, color="black", weight=300)),
    dict(text="Neil+07", x=px(1192), y=py(457), xanchor="right",
         font=dict(family=JP, size=48, color="black", weight=300)),
    dict(text="X線", x=px(62), y=py(235), textangle=-90,
         font=dict(family=JP, size=37, color="black", weight=300)),
    dict(text="count rate", x=px(116), y=py(245), textangle=-90,
         font=dict(family=JP, size=37, color="black", weight=300)),
    dict(text="Ks Flux", x=px(121), y=py(598), textangle=-90,
         font=dict(family=JP, size=40, color="black", weight=300)),
    dict(text="MJD", x=px(716), y=py(815), font=dict(family=DV, size=21, color=tick_color)),
    dict(text="近赤外線が暗い時は降着円盤が放射起源の可能性.", x=px(148), y=py(888),
         xanchor="left", font=dict(family=JP, size=47.5, color="black", weight=300)),
]
for a in annotations:
    a.setdefault("xanchor", "center")
    a.setdefault("yanchor", "middle")
    a.update(xref="paper", yref="paper", showarrow=False)
fig.update_layout(annotations=annotations)

line_style = dict(color="black", width=2.5)
shapes = [
    # the last tick label is cropped on the right, as in the reference
    dict(type="rect", xref="paper", yref="paper", x0=px(1239), x1=px(1252),
         y0=py(800), y1=py(768), fillcolor="white", line=dict(width=0), layer="above"),
    # empty legend box in the lower panel
    dict(type="rect", xref="paper", yref="paper", x0=px(1199), x1=px(1208),
         y0=py(449), y1=py(440), line=dict(color="#cccccc", width=1), layer="above"),
    # slide frame
    dict(type="line", xref="paper", yref="paper", x0=px(9), x1=px(9), y0=py(37), y1=0,
         line=line_style, layer="above"),
    dict(type="line", xref="paper", yref="paper", x0=px(1253.5), x1=px(1253.5), y0=py(37), y1=0,
         line=line_style, layer="above"),
    dict(type="line", xref="paper", yref="paper", x0=px(8), x1=px(588), y0=py(37), y1=py(37),
         line=line_style, layer="above"),
    dict(type="line", xref="paper", yref="paper", x0=px(805), x1=1, y0=py(37), y1=py(37),
         line=line_style, layer="above"),
]
fig.update_layout(shapes=shapes)

fig.write_html(
    "out.html",
    config={"displayModeBar": False},
    post_script="document.body.style.margin='0px';document.body.style.overflow='hidden';",
)
